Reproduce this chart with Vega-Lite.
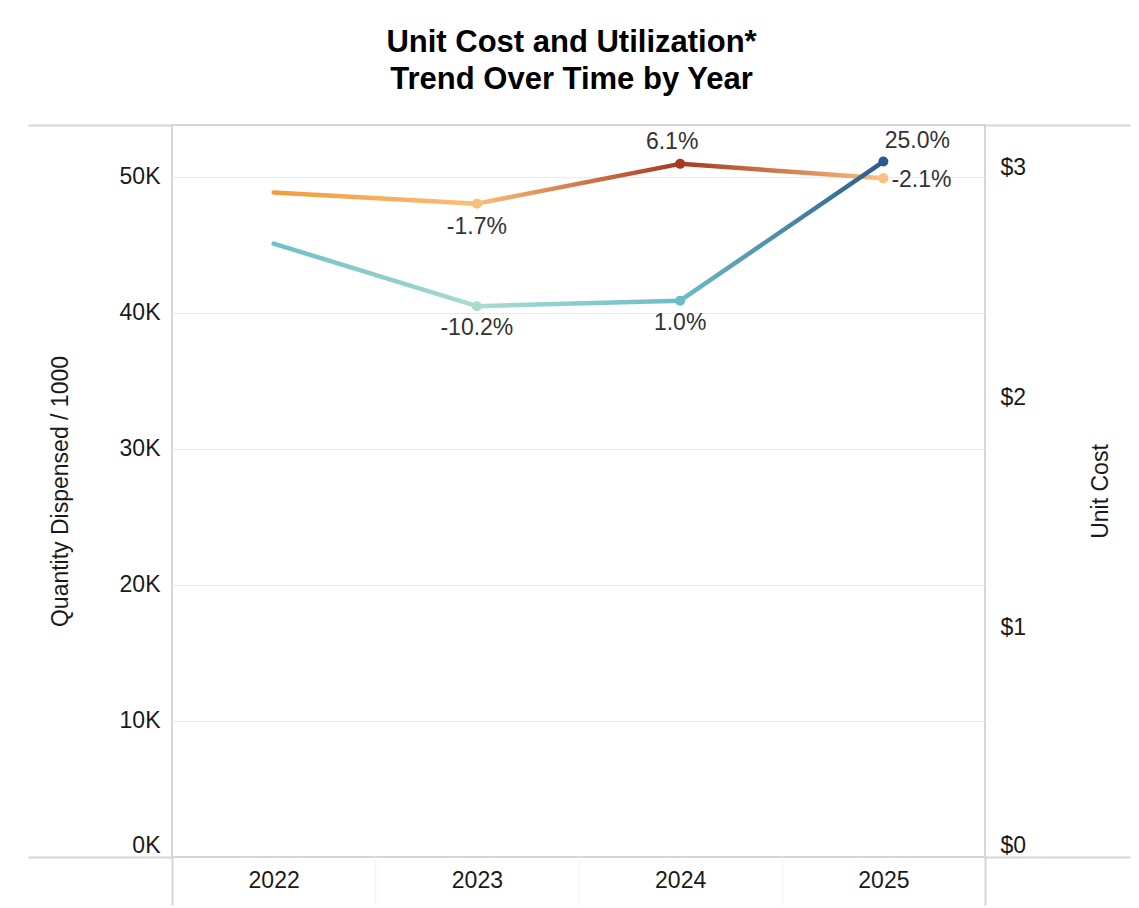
{
  "$schema": "https://vega.github.io/schema/vega-lite/v6.json",
  "width": 813,
  "height": 732,
  "autosize": "none",
  "padding": {"left": 172, "top": 125, "right": 154, "bottom": 51},
  "background": "#ffffff",
  "title": {
    "text": ["Unit Cost and Utilization*", " Trend Over Time by Year"],
    "anchor": "middle",
    "frame": "group",
    "font": "Liberation Sans",
    "fontSize": 31,
    "fontWeight": "bold",
    "color": "#000000",
    "lineHeight": 37,
    "offset": 28,
    "dx": -7
  },
  "config": {
    "view": {"stroke": "#d6d6d6", "strokeWidth": 2},
    "font": "Liberation Sans",
    "locale": {"number": {"decimal": ".", "thousands": ",", "grouping": [3], "currency": ["$", ""], "minus": "-"}},
    "axis": {
      "labelFont": "Liberation Sans",
      "titleFont": "Liberation Sans",
      "labelFontSize": 23,
      "titleFontSize": 23,
      "labelColor": "#1a1a1a",
      "titleColor": "#1a1a1a",
      "titleFontWeight": "normal",
      "domain": false
    }
  },
  "datasets": {
    "years": [
      {"year": "2022", "qty": 45100, "qtyPct": null, "cost": 2.89, "costPct": null},
      {"year": "2023", "qty": 40500, "qtyPct": -0.102, "cost": 2.841, "costPct": -0.017},
      {"year": "2024", "qty": 40905, "qtyPct": 0.01, "cost": 3.014, "costPct": 0.061},
      {"year": "2025", "qty": 51130, "qtyPct": 0.25, "cost": 2.951, "costPct": -0.021}
    ]
  },
  "data": {"name": "years"},
  "encoding": {
    "x": {
      "field": "year",
      "type": "ordinal",
      "bandPosition": 0.5,
      "scale": {"type": "band", "paddingInner": 0, "paddingOuter": 0},
      "axis": {
        "title": null,
        "labelAngle": 0,
        "grid": false,
        "tickBand": "extent",
        "tickSize": 48,
        "tickWidth": 2,
        "tickColor": {"condition": {"test": "datum.extra || datum.value === '2025'", "value": "#d6d6d6"}, "value": "#f6f6f6"},
        "labelPadding": -36
      }
    }
  },
  "layer": [
    {
      "encoding": {
        "y": {
          "field": "cost",
          "type": "quantitative",
          "scale": {"domain": [0, 3.183], "nice": false, "zero": false},
          "axis": {
            "orient": "right",
            "title": "Unit Cost",
            "values": [0, 1, 2, 3, 3.183],
            "labelExpr": "datum.value > 3.1 ? '' : '$' + datum.value",
            "grid": false,
            "tickSize": 145,
            "tickWidth": 2,
            "tickColor": {"condition": {"test": "datum.value === 0 || datum.value > 3.1", "value": "#d6d6d6"}, "value": "transparent"},
            "labelPadding": -130,
            "labelFlush": true,
            "titleAngle": 270,
            "titleBaseline": "top",
            "titlePadding": -42
          }
        }
      },
      "layer": [
        {
          "transform": [{"filter": "datum.year === '2022' || datum.year === '2023'"}],
          "mark": {"type": "line", "strokeWidth": 4.5, "strokeCap": "round",
            "stroke": {"gradient": "linear", "x1": 0, "y1": 0, "x2": 1, "y2": 0,
              "stops": [{"offset": 0, "color": "#f39b3c"}, {"offset": 1, "color": "#fdbd79"}]}}
        },
        {
          "transform": [{"filter": "datum.year === '2023' || datum.year === '2024'"}],
          "mark": {"type": "line", "strokeWidth": 4.5, "strokeCap": "round",
            "stroke": {"gradient": "linear", "x1": 0, "y1": 0, "x2": 1, "y2": 0,
              "stops": [{"offset": 0, "color": "#fdbd79"}, {"offset": 1, "color": "#a43a1f"}]}}
        },
        {
          "transform": [{"filter": "datum.year === '2024' || datum.year === '2025'"}],
          "mark": {"type": "line", "strokeWidth": 4.5, "strokeCap": "round",
            "stroke": {"gradient": "linear", "x1": 0, "y1": 0, "x2": 1, "y2": 0,
              "stops": [{"offset": 0, "color": "#a43a1f"}, {"offset": 1, "color": "#fcc081"}]}}
        },
        {
          "transform": [{"filter": "datum.costPct != null"}],
          "mark": {"type": "point", "filled": true, "size": 100, "opacity": 1},
          "encoding": {
            "color": {"field": "costPct", "type": "quantitative",
              "scale": {"domain": [-0.021, -0.017, 0.061], "range": ["#fcc081", "#fdbd79", "#a43a1f"], "interpolate": "rgb"},
              "legend": null}
          }
        },
        {
          "transform": [{"filter": "datum.year === '2023'"}],
          "mark": {"type": "text", "fontSize": 23, "color": "#333333", "dy": 23, "baseline": "middle"},
          "encoding": {"text": {"field": "costPct", "type": "quantitative", "format": ".1%"}}
        },
        {
          "transform": [{"filter": "datum.year === '2024'"}],
          "mark": {"type": "text", "fontSize": 23, "color": "#333333", "dy": -22, "dx": -8, "baseline": "middle"},
          "encoding": {"text": {"field": "costPct", "type": "quantitative", "format": ".1%"}}
        },
        {
          "transform": [{"filter": "datum.year === '2025'"}],
          "mark": {"type": "text", "fontSize": 23, "color": "#333333", "dy": 2, "dx": 8, "align": "left", "baseline": "middle"},
          "encoding": {"text": {"field": "costPct", "type": "quantitative", "format": ".1%"}}
        }
      ]
    },
    {
      "encoding": {
        "y": {
          "field": "qty",
          "type": "quantitative",
          "scale": {"domain": [0, 53820], "nice": false, "zero": false},
          "axis": {
            "orient": "left",
            "title": "Quantity Dispensed / 1000",
            "values": [0, 10000, 20000, 30000, 40000, 50000, 53820],
            "labelExpr": "datum.value > 50000 ? '' : format(datum.value / 1000, 'd') + 'K'",
            "grid": true,
            "gridColor": {"condition": {"test": "datum.value === 0 || datum.value > 50000", "value": "transparent"}, "value": "#ebebeb"},
            "gridWidth": 1,
            "tickSize": 144,
            "tickWidth": 2,
            "tickColor": {"condition": {"test": "datum.value === 0 || datum.value > 50000", "value": "#d6d6d6"}, "value": "transparent"},
            "labelPadding": -132,
            "labelFlush": true,
            "titlePadding": -45
          }
        }
      },
      "layer": [
        {
          "transform": [{"filter": "datum.year === '2022' || datum.year === '2023'"}],
          "mark": {"type": "line", "strokeWidth": 4.5, "strokeCap": "round",
            "stroke": {"gradient": "linear", "x1": 0, "y1": 0, "x2": 1, "y2": 0,
              "stops": [{"offset": 0, "color": "#6fbfc6"}, {"offset": 1, "color": "#a9dccf"}]}}
        },
        {
          "transform": [{"filter": "datum.year === '2023' || datum.year === '2024'"}],
          "mark": {"type": "line", "strokeWidth": 4.5, "strokeCap": "round",
            "stroke": {"gradient": "linear", "x1": 0, "y1": 0, "x2": 1, "y2": 0,
              "stops": [{"offset": 0, "color": "#a9dccf"}, {"offset": 1, "color": "#6cbcc8"}]}}
        },
        {
          "transform": [{"filter": "datum.year === '2024' || datum.year === '2025'"}],
          "mark": {"type": "line", "strokeWidth": 4.5, "strokeCap": "round",
            "stroke": {"gradient": "linear", "x1": 0, "y1": 0, "x2": 1, "y2": 0,
              "stops": [{"offset": 0, "color": "#6cbcc8"}, {"offset": 1, "color": "#2a5b8c"}]}}
        },
        {
          "transform": [{"filter": "datum.qtyPct != null"}],
          "mark": {"type": "point", "filled": true, "size": 100, "opacity": 1},
          "encoding": {
            "color": {"field": "qtyPct", "type": "quantitative",
              "scale": {"domain": [-0.102, 0.01, 0.25], "range": ["#a9dccf", "#6cbcc8", "#2a5b8c"], "interpolate": "rgb"},
              "legend": null}
          }
        },
        {
          "transform": [{"filter": "datum.year === '2023' || datum.year === '2024'"}],
          "mark": {"type": "text", "fontSize": 23, "color": "#333333", "dy": 22, "baseline": "middle"},
          "encoding": {"text": {"field": "qtyPct", "type": "quantitative", "format": ".1%"}}
        },
        {
          "transform": [{"filter": "datum.year === '2025'"}],
          "mark": {"type": "text", "fontSize": 23, "color": "#333333", "dy": -21, "dx": 34, "baseline": "middle"},
          "encoding": {"text": {"field": "qtyPct", "type": "quantitative", "format": ".1%"}}
        }
      ]
    }
  ],
  "resolve": {"scale": {"y": "independent", "color": "independent"}}
}
